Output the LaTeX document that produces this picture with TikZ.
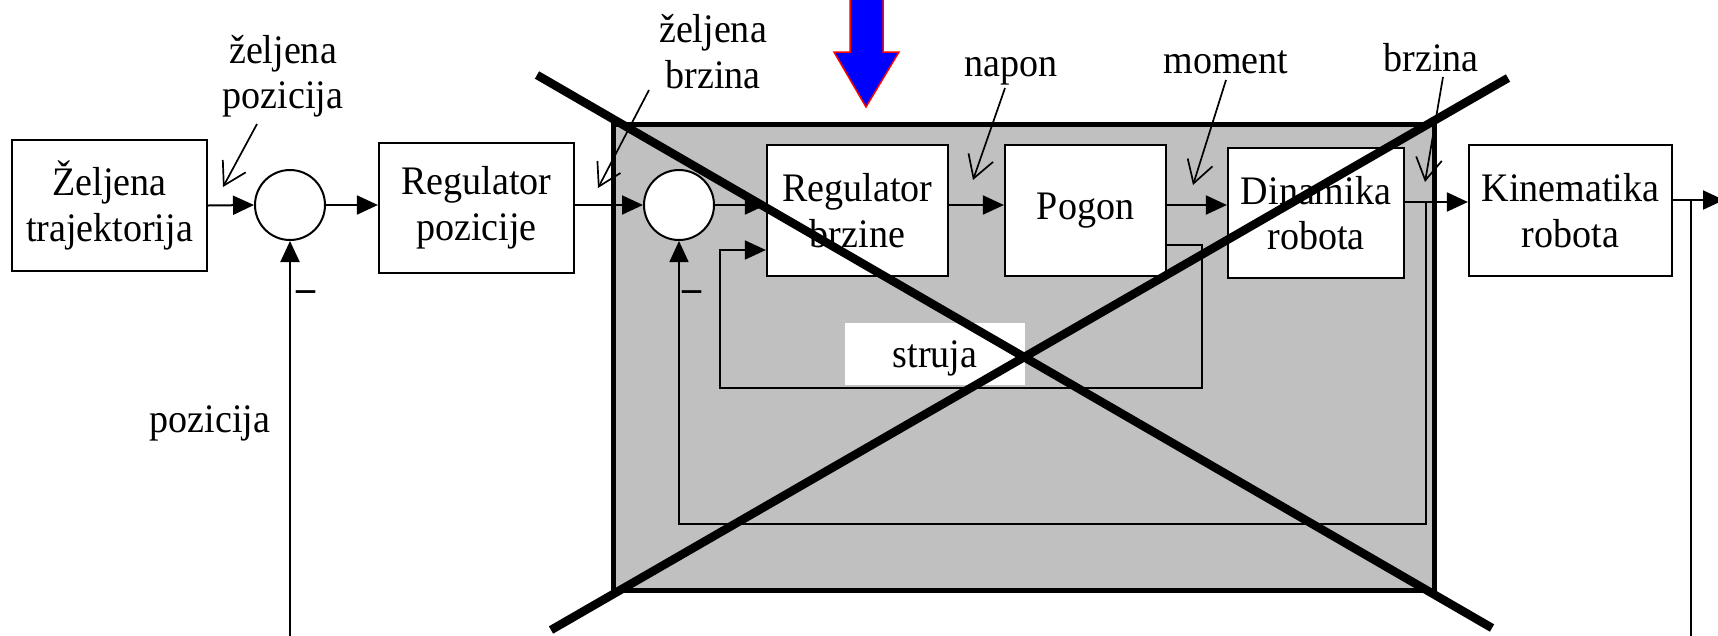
\documentclass[tikz,border=0pt]{standalone}
\usepackage{fontspec}
\setmainfont[FakeStretch=0.94]{Liberation Serif}
\usetikzlibrary{arrows.meta}
\definecolor{boxgray}{RGB}{192,192,192}
\begin{document}
\begin{tikzpicture}[x=1pt,y=-1pt,
  txt/.style={font=\fontsize{40.5}{45.5}\selectfont, inner sep=0pt},
  blk/.style={txt, draw, line width=2.2pt, fill=white, align=center},
  sum/.style={circle, draw, line width=2pt, fill=white, minimum size=70pt, inner sep=0pt},
  arr/.style={line width=2pt, -{Triangle[length=21pt,width=19pt]}},
  ln/.style={line width=2pt},
  inarr/.style={line width=1.6pt, -{Triangle[length=21pt,width=19pt]}},
  ptr/.style={line width=1.7pt, -{Straight Barb[length=22pt,width=26pt]}},
  lbl/.style={txt, align=center},
  cross/.style={line width=8.5pt},
  area/.style={draw, fill=boxgray, line width=5pt, inner sep=0pt}
]
\useasboundingbox (0,0) rectangle (1718,635);
\clip (0,0) rectangle (1718,635);

% shaded region
\node[area, minimum width=821pt, minimum height=466pt] (zone) at (1023.5,357) {};

% blocks
\node[blk, minimum width=195pt, minimum height=131pt] (traj) at (109.5,205.5) {Željena\\trajektorija};
\node[sum] (s1) at (290,205) {};
\node[blk, minimum width=195pt, minimum height=130pt] (rp) at (476.5,208) {Regulator\\pozicije};
\node[sum] (s2) at (679,205) {};
\node[blk, minimum width=181pt, minimum height=131pt] (rb) at (857.5,210.5) {Regulator\\brzine};
\node[blk, minimum width=161pt, minimum height=131pt] (pog) at (1085.5,210.5) {Pogon};
\node[blk, minimum width=176pt, minimum height=130pt] (din) at (1316,213) {Dinamika\\robota};
\node[blk, minimum width=203pt, minimum height=131pt] (kin) at (1570.5,210.5) {Kinematika\\robota};

% helper coordinates
\coordinate (b1) at (1426,202);
\coordinate (fb2) at (1426,524);
\coordinate (b2) at (1691,200);
\coordinate (out) at (1724,200);
\coordinate (fb1) at (290,640);
\coordinate (c1) at (1202,245);
\coordinate (c2) at (720,388);
\coordinate (c3) at (720,250);

% main path
\draw[arr] (traj.east) -- (s1.west);
\draw[arr] (s1.east) -- (rp.west |- s1.east);
\draw[arr] (rp.east |- s2.west) -- (s2.west);
\draw[arr] (s2.east) -- (rb.west |- s2.east);
\draw[arr] (rb.east |- s2) -- (pog.west |- s2);
\draw[arr] (pog.east |- s2) -- (din.west |- s2);
\draw[arr] (din.east |- b1) -- (kin.west |- b1);
\draw[arr] (kin.east |- b2) -- (out);
\draw[ln] (b2) -- (b2 |- fb1);

% feedback loops
\draw[arr] (fb1) -- (s1.south);
\draw[inarr] (b1) -- (fb2) -| (s2.south);
\draw[inarr] (pog.east |- c1) -- (c1) |- (c2) -- (c3) -- (rb.west |- c3);

% current label
\node[txt, fill=white, minimum width=180pt, minimum height=62pt, text height=34pt, text depth=8pt] (struja) at (935,354) {struja};

% minus signs
\node[txt, anchor=base, font=\fontsize{40.5}{45.5}\selectfont\bfseries] (m1) at (306,301) {–};
\node[txt, anchor=base, font=\fontsize{40.5}{45.5}\selectfont\bfseries] (m2) at (692,301) {–};

% labels
\node[lbl] (lzp) at (283,76) {željena\\pozicija};
\node[lbl] (lzb) at (713,51.4) {željena\\brzina};
\node[txt, anchor=base] (lnap) at (1011,76) {napon};
\node[txt, anchor=base] (lmom) at (1226,73) {moment};
\node[txt, anchor=base] (lbrz) at (1431,71) {brzina};
\node[txt, anchor=base] (lpos) at (210,432) {pozicija};

% pointers
\coordinate (p1s) at (257,124); \coordinate (p1e) at (223,187);
\coordinate (p2s) at (649,90);  \coordinate (p2e) at (598,188);
\coordinate (p3s) at (1005,88); \coordinate (p3e) at (973,180);
\coordinate (p4s) at (1226,80); \coordinate (p4e) at (1193,185);
\coordinate (p5s) at (1443,77); \coordinate (p5e) at (1425,182);
\draw[ptr] (p1s) -- (p1e);
\draw[ptr] (p2s) -- (p2e);
\draw[ptr] (p3s) -- (p3e);
\draw[ptr] (p4s) -- (p4e);
\draw[ptr] (p5s) -- (p5e);

% big cross
\draw[cross] (537,75) -- (1492,628);
\draw[cross] (551,630) -- (1508,78);

% blue arrow
\filldraw[fill=blue, draw=red, line width=1.5pt] (850,-5) -- (883,-5) -- (883,52) -- (899,52) -- (866,107) -- (834,52) -- (850,52) -- cycle;
\end{tikzpicture}
\end{document}
